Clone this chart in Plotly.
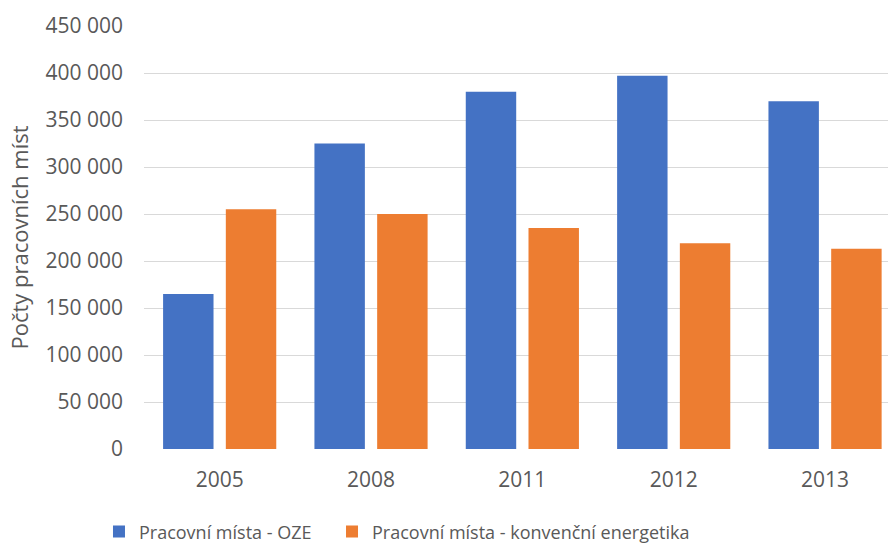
import plotly.graph_objects as go

# Job counts by year: renewable energy sources (OZE) vs. conventional energy
years = ["2005", "2008", "2011", "2012", "2013"]
oze_jobs = [165000, 325000, 380000, 397000, 370000]
conventional_jobs = [255000, 250000, 235000, 219000, 213000]

series_names = ["Pracovní místa - OZE", "Pracovní místa - konvenční energetika"]
y_ticks = [0, 50000, 100000, 150000, 200000, 250000, 300000, 350000, 400000, 450000]
y_title = "Počty pracovních míst"

BLUE = "#4472C4"
ORANGE = "#ED7D31"
TEXT = "#595959"
GRID = "#D9D9D9"
FONT = "Open Sans"

fig = go.Figure()
fig.add_trace(go.Bar(x=years, y=oze_jobs, name=series_names[0], legend="legend",
                     marker=dict(color=BLUE, line=dict(width=0))))
fig.add_trace(go.Bar(x=years, y=conventional_jobs, name=series_names[1], legend="legend2",
                     marker=dict(color=ORANGE, line=dict(width=0))))

legend_style = dict(orientation="h", xanchor="left", y=-0.152, yanchor="top",
                    font=dict(family=FONT, size=18, color=TEXT),
                    bgcolor="rgba(0,0,0,0)")

fig.update_layout(
    width=888, height=543,
    margin=dict(l=144, r=0, t=26, b=94, autoexpand=False),
    paper_bgcolor="white", plot_bgcolor="white",
    barmode="group", bargap=0.171, bargroupgap=0.196,
    separators=". ",
    font=dict(family=FONT, size=21, color=TEXT),
    showlegend=True,
    legend=dict(x=-0.0605, **legend_style),
    legend2=dict(x=0.2527, **legend_style),
)

fig.update_xaxes(type="category", range=[-0.5, 4.416], showgrid=False,
                 showline=False, zeroline=False, ticks="",
                 tickfont=dict(family=FONT, size=21, color=TEXT),
                 ticklabelstandoff=16)
fig.update_yaxes(range=[0, 450000], tickvals=y_ticks, tickformat=",d",
                 showgrid=True, gridcolor=GRID, gridwidth=1.3,
                 zeroline=False, showline=False, ticks="",
                 ticklabelstandoff=20,
                 tickfont=dict(family=FONT, size=21, color=TEXT),
                 title=dict(text=y_title, font=dict(family=FONT, size=22, color=TEXT),
                            standoff=10))

fig.write_html("out.html")
